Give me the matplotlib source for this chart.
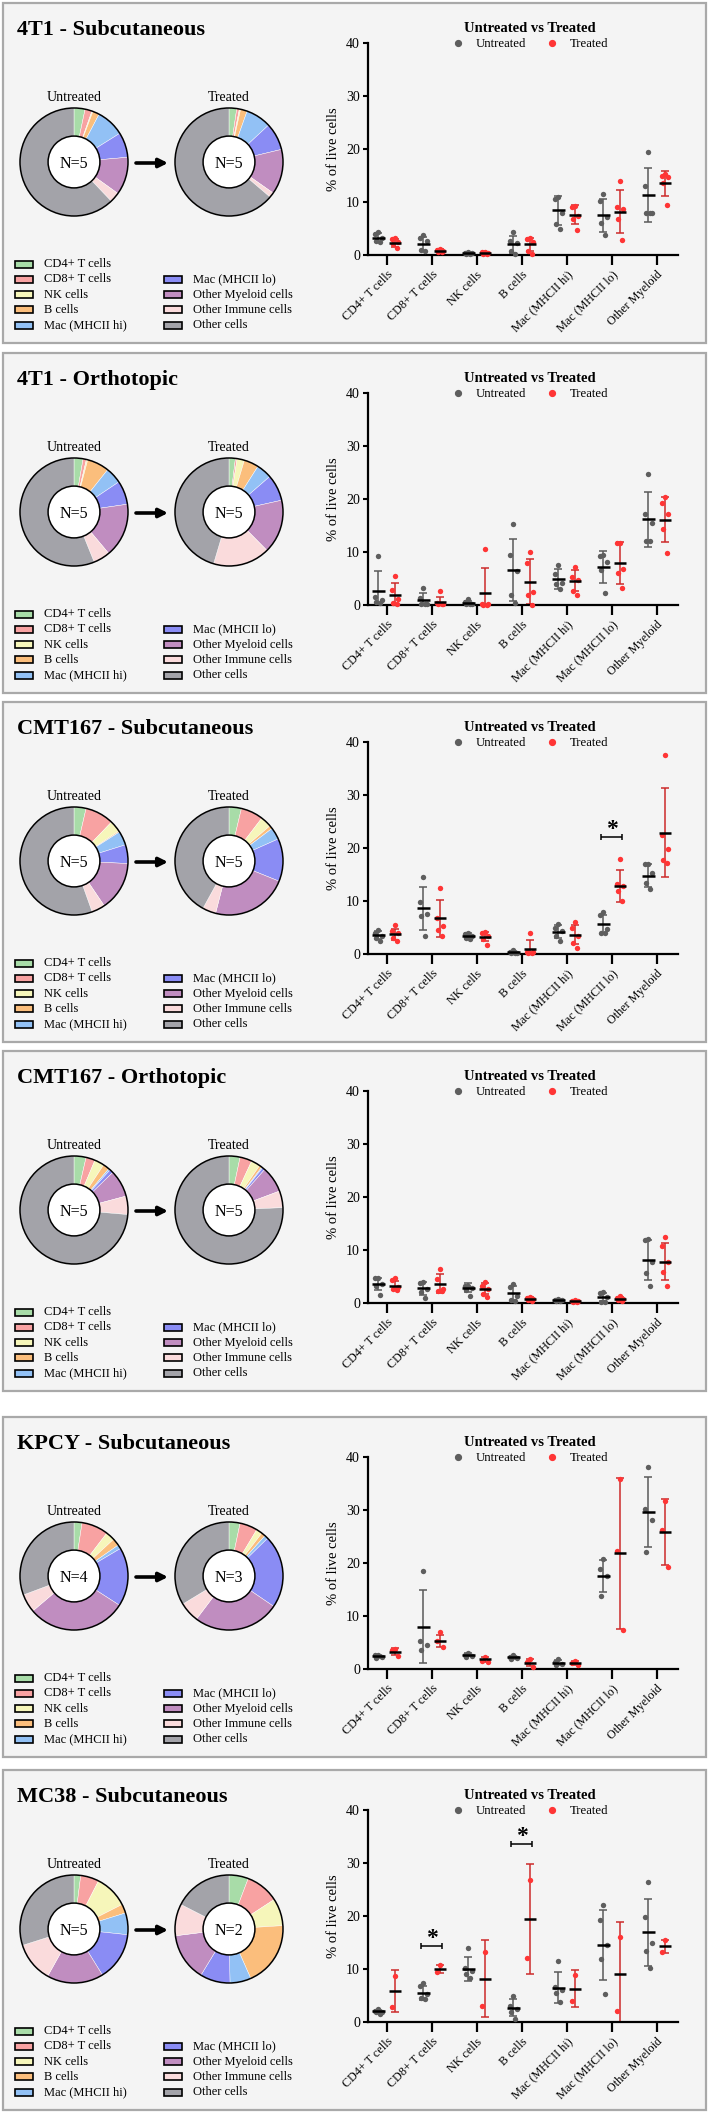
import matplotlib
matplotlib.use("Agg")
import matplotlib.pyplot as plt
from matplotlib.patches import Rectangle, Circle
from matplotlib.lines import Line2D

plt.rcParams['font.family'] = ['Liberation Serif', 'DejaVu Serif']

# ---------------- data ----------------
CATEGORIES = ['CD4+ T cells', 'CD8+ T cells', 'NK cells', 'B cells',
              'Mac (MHCII hi)', 'Mac (MHCII lo)', 'Other Myeloid']
LEGEND_LABELS = ['CD4+ T cells', 'CD8+ T cells', 'NK cells', 'B cells',
                 'Mac (MHCII hi)', 'Mac (MHCII lo)', 'Other Myeloid cells',
                 'Other Immune cells', 'Other cells']
DONUT_COLORS = ['#a8dca8', '#f8a2a2', '#f6f6ba', '#fbbe7c', '#92c1f5',
                '#8a8cf4', '#c08dc0', '#fadbdc', '#a3a3a9']
YTICKS = [0, 10, 20, 30, 40]
GROUPS = ['Untreated', 'Treated']

# Panel 1: 4T1 - Subcutaneous
P1_TITLE = '4T1 - Subcutaneous'
P1_N = [5, 5]
P1_U_PTS = [[4.4, 4.0, 3.3, 2.7, 2.4], [3.8, 3.3, 2.7, 0.9, 0.8], [0.6, 0.4, 0.3, 0.2, 0.1],
            [4.4, 2.7, 2.2, 0.8, 0.2], [11.0, 10.5, 7.9, 5.8, 4.9], [11.5, 10.2, 7.1, 6.0, 3.8],
            [19.5, 13.1, 7.9, 7.9, 7.9]]
P1_U_MEAN = [3.3, 2.1, 0.3, 2.0, 8.4, 7.5, 11.3]
P1_U_SD = [0.8, 1.3, 0.2, 1.6, 2.7, 3.1, 5.1]
P1_T_PTS = [[3.2, 3.0, 2.4, 2.1, 1.4], [1.1, 0.9, 0.8, 0.6, 0.5], [0.6, 0.5, 0.4, 0.2, 0.1],
            [3.3, 3.0, 2.5, 0.8, 0.2], [9.3, 9.0, 7.4, 6.8, 4.8], [14.0, 9.0, 8.7, 6.7, 2.8],
            [15.2, 15.0, 14.7, 13.6, 9.4]]
P1_T_MEAN = [2.3, 0.8, 0.35, 2.0, 7.6, 8.2, 13.5]
P1_T_SD = [0.7, 0.3, 0.2, 1.3, 1.8, 4.1, 2.4]
P1_DONUT_U = [3.3, 2.1, 0.3, 2.0, 8.4, 7.5, 11.3, 3.0, 62.1]
P1_DONUT_T = [2.3, 0.8, 0.35, 2.0, 7.6, 8.2, 13.5, 1.5, 63.75]
P1_SIG = []

# Panel 2: 4T1 - Orthotopic
P2_TITLE = '4T1 - Orthotopic'
P2_N = [5, 5]
P2_U_PTS = [[9.3, 1.5, 0.9, 0.6, 0.4], [3.2, 1.4, 0.2, 0.2, 0.2], [1.2, 0.5, 0.2, 0.2, 0.1],
            [15.2, 9.4, 6.4, 1.9, 0.3], [7.5, 5.8, 4.2, 3.9, 3.0], [9.4, 9.3, 8.2, 6.6, 2.2],
            [24.7, 17.2, 15.4, 12.0, 12.1]]
P2_U_MEAN = [2.7, 1.0, 0.4, 6.6, 4.9, 7.1, 16.2]
P2_U_SD = [3.7, 1.3, 0.4, 5.9, 1.8, 3.0, 5.2]
P2_T_PTS = [[5.4, 2.8, 1.1, 0.3, 0.2], [2.6, 0.3, 0.2, 0.2, 0.1], [10.6, 0.1, 0.1, 0.0, 0.0],
            [10.0, 8.0, 2.4, 1.9, 0.0], [7.2, 5.3, 4.7, 2.7, 1.9], [11.7, 11.7, 6.7, 6.1, 3.2],
            [20.4, 19.2, 17.2, 14.4, 9.9]]
P2_T_MEAN = [1.9, 0.5, 2.2, 4.4, 4.6, 7.9, 16.1]
P2_T_SD = [2.2, 1.1, 4.7, 4.3, 2.0, 3.9, 4.2]
P2_DONUT_U = [2.7, 1.0, 0.4, 6.6, 4.9, 7.1, 16.2, 5.0, 56.1]
P2_DONUT_T = [1.9, 0.5, 2.2, 4.4, 4.6, 7.9, 16.1, 17.0, 45.4]
P2_SIG = []

# Panel 3: CMT167 - Subcutaneous
P3_TITLE = 'CMT167 - Subcutaneous'
P3_N = [5, 5]
P3_U_PTS = [[4.6, 4.0, 3.4, 3.1, 2.5], [14.6, 9.9, 7.5, 7.2, 3.4], [4.0, 3.7, 3.4, 3.1, 2.8],
            [0.7, 0.4, 0.25, 0.2, 0.1], [5.7, 5.0, 4.3, 3.4, 2.5], [7.9, 7.4, 4.7, 4.0, 3.9],
            [17.0, 16.9, 15.3, 13.4, 12.2]]
P3_U_MEAN = [3.6, 8.6, 3.4, 0.35, 4.2, 5.6, 14.8]
P3_U_SD = [0.8, 4.1, 0.5, 0.2, 1.2, 1.8, 2.2]
P3_T_PTS = [[5.4, 4.3, 3.9, 3.1, 2.5], [12.5, 6.8, 5.2, 4.6, 3.4], [4.2, 4.0, 3.4, 2.8, 1.7],
            [4.0, 0.4, 0.3, 0.2, 0.1], [6.0, 5.0, 3.4, 2.1, 1.2], [17.9, 13.2, 12.8, 11.9, 10.0],
            [37.6, 22.4, 19.8, 17.7, 17.2]]
P3_T_MEAN = [3.7, 6.7, 3.3, 1.0, 3.6, 12.8, 22.9]
P3_T_SD = [1.0, 3.5, 0.9, 1.6, 1.8, 3.0, 8.4]
P3_DONUT_U = [3.6, 8.6, 3.4, 0.35, 4.2, 5.6, 14.8, 4.0, 55.45]
P3_DONUT_T = [3.7, 6.7, 3.3, 1.0, 3.6, 12.8, 22.9, 4.0, 42.0]
P3_SIG = [(5, 22.1)]

# Panel 4: CMT167 - Orthotopic
P4_TITLE = 'CMT167 - Orthotopic'
P4_N = [5, 5]
P4_U_PTS = [[4.7, 4.7, 3.6, 3.3, 1.6], [3.9, 3.7, 2.7, 2.1, 0.9], [3.3, 3.2, 2.9, 2.4, 1.3],
            [3.6, 3.0, 1.3, 0.6, 0.4], [0.7, 0.6, 0.5, 0.4, 0.3], [2.1, 1.9, 1.1, 0.2, 0.2],
            [12.1, 11.8, 7.7, 5.6, 3.3]]
P4_U_MEAN = [3.6, 2.75, 2.9, 1.9, 0.5, 1.1, 8.1]
P4_U_SD = [1.2, 1.2, 0.8, 1.3, 0.2, 0.8, 3.8]
P4_T_PTS = [[4.7, 4.3, 3.0, 2.7, 2.4], [6.4, 4.6, 2.7, 2.2, 2.2], [3.9, 3.2, 2.7, 1.75, 1.1],
            [1.1, 0.9, 0.8, 0.5, 0.4], [0.5, 0.4, 0.3, 0.2, 0.1], [1.3, 0.9, 0.7, 0.5, 0.4],
            [12.4, 10.7, 7.8, 5.8, 3.3]]
P4_T_MEAN = [3.3, 3.6, 2.7, 0.8, 0.3, 0.8, 7.8]
P4_T_SD = [0.9, 1.8, 1.0, 0.3, 0.15, 0.35, 3.5]
P4_DONUT_U = [3.6, 2.75, 2.9, 1.9, 0.5, 1.1, 8.1, 5.5, 73.65]
P4_DONUT_T = [3.3, 3.6, 2.7, 0.8, 0.3, 0.8, 7.8, 5.0, 75.7]
P4_SIG = []

# Panel 5: KPCY - Subcutaneous
P5_TITLE = 'KPCY - Subcutaneous'
P5_N = [4, 3]
P5_U_PTS = [[2.7, 2.6, 2.2, 2.1], [18.4, 5.2, 4.6, 3.6], [3.0, 2.7, 2.5, 2.3],
            [2.6, 2.3, 2.0, 1.9], [1.8, 1.3, 0.9, 0.7], [20.7, 18.8, 17.5, 13.8],
            [38.1, 30.1, 28.2, 22.1]]
P5_U_MEAN = [2.4, 8.0, 2.7, 2.2, 1.2, 17.6, 29.7]
P5_U_SD = [0.3, 6.9, 0.3, 0.3, 0.5, 3.0, 6.6]
P5_T_PTS = [[3.8, 3.6, 2.4], [7.0, 5.2, 4.1], [2.3, 1.6, 1.4], [1.9, 1.25, 0.4],
            [1.6, 1.1, 0.8], [35.8, 22.3, 7.3], [31.7, 26.3, 19.3]]
P5_T_MEAN = [3.3, 5.3, 1.8, 1.2, 1.1, 21.8, 25.8]
P5_T_SD = [0.7, 1.2, 0.5, 0.7, 0.4, 14.2, 6.2]
P5_DONUT_U = [2.4, 8.0, 2.7, 2.2, 1.2, 17.6, 29.7, 5.5, 30.7]
P5_DONUT_T = [3.3, 5.3, 1.8, 1.2, 1.1, 21.8, 25.8, 6.0, 33.7]
P5_SIG = []

# Panel 6: MC38 - Subcutaneous
P6_TITLE = 'MC38 - Subcutaneous'
P6_N = [5, 2]
P6_U_PTS = [[2.4, 2.1, 1.9, 1.8, 1.6], [7.3, 6.8, 5.2, 4.6, 4.3], [14.0, 10.2, 9.6, 9.0, 8.3],
            [5.0, 3.0, 2.4, 1.8, 0.6], [11.5, 6.6, 6.1, 5.5, 3.8], [22.0, 19.2, 14.6, 11.9, 5.2],
            [26.5, 19.8, 14.9, 13.4, 10.2]]
P6_U_MEAN = [2.0, 5.5, 10.0, 2.7, 6.5, 14.5, 16.9]
P6_U_SD = [0.3, 1.3, 2.2, 1.6, 2.9, 6.6, 6.4]
P6_T_PTS = [[8.7, 2.9], [10.8, 9.4], [13.2, 3.0], [26.8, 12.1], [8.8, 3.9], [16.1, 2.1],
            [15.4, 13.3]]
P6_T_MEAN = [5.8, 10.0, 8.2, 19.4, 6.3, 9.0, 14.3]
P6_T_SD = [4.0, 0.7, 7.2, 10.4, 3.5, 9.9, 1.2]
P6_DONUT_U = [2.0, 5.5, 10.0, 2.7, 6.5, 14.5, 16.9, 12.0, 29.9]
P6_DONUT_T = [5.8, 10.0, 8.2, 19.4, 6.3, 9.0, 14.3, 9.5, 17.5]
P6_SIG = [(1, 14.3), (3, 33.5)]

PANELS = [
    (P1_TITLE, P1_N, P1_U_PTS, P1_U_MEAN, P1_U_SD, P1_T_PTS, P1_T_MEAN, P1_T_SD, P1_DONUT_U, P1_DONUT_T, P1_SIG),
    (P2_TITLE, P2_N, P2_U_PTS, P2_U_MEAN, P2_U_SD, P2_T_PTS, P2_T_MEAN, P2_T_SD, P2_DONUT_U, P2_DONUT_T, P2_SIG),
    (P3_TITLE, P3_N, P3_U_PTS, P3_U_MEAN, P3_U_SD, P3_T_PTS, P3_T_MEAN, P3_T_SD, P3_DONUT_U, P3_DONUT_T, P3_SIG),
    (P4_TITLE, P4_N, P4_U_PTS, P4_U_MEAN, P4_U_SD, P4_T_PTS, P4_T_MEAN, P4_T_SD, P4_DONUT_U, P4_DONUT_T, P4_SIG),
    (P5_TITLE, P5_N, P5_U_PTS, P5_U_MEAN, P5_U_SD, P5_T_PTS, P5_T_MEAN, P5_T_SD, P5_DONUT_U, P5_DONUT_T, P5_SIG),
    (P6_TITLE, P6_N, P6_U_PTS, P6_U_MEAN, P6_U_SD, P6_T_PTS, P6_T_MEAN, P6_T_SD, P6_DONUT_U, P6_DONUT_T, P6_SIG),
]

# ---------------- layout / style ----------------
W, H = 709, 2114
PANEL_TOPS = [3, 353, 702, 1051, 1417, 1770]
PANEL_H = 340
U_DOT, T_DOT = '#5e5e5e', '#ff3535'
U_BAR, T_BAR = '#5a5a5a', '#cc2a2a'
GROUP_OFF = 0.185
JITTER = [0.0, -0.075, 0.075, -0.04, 0.04]

fig = plt.figure(figsize=(W / 100, H / 100), dpi=100)
fig.patch.set_facecolor('white')

bg = fig.add_axes([0, 0, 1, 1])
bg.set_xlim(0, W)
bg.set_ylim(H, 0)
bg.axis('off')


def fx(px):
    return px / W


def fy(py):
    return 1 - py / H


for p, (title, ns, u_pts, u_mean, u_sd, t_pts, t_mean, t_sd, d_u, d_t, sig) in enumerate(PANELS):
    T = PANEL_TOPS[p]
    bg.add_patch(Rectangle((3, T), 703, PANEL_H, facecolor='#f4f4f4',
                           edgecolor='#a9a9a9', linewidth=1.6))
    bg.text(17, T + 32, title, fontsize=16, fontweight='bold', ha='left', va='baseline')

    # donuts
    cy = T + 159
    for cx, vals, lab, n in [(74, d_u, 'Untreated', ns[0]), (229, d_t, 'Treated', ns[1])]:
        dax = fig.add_axes([fx(cx - 67.5), fy(cy + 67.5), 135 / W, 135 / H])
        dax.pie(vals, colors=DONUT_COLORS, startangle=90, counterclock=False,
                radius=1.0, wedgeprops=dict(width=0.52, edgecolor='white', linewidth=0.3))
        dax.add_patch(Circle((0, 0), 1.0, fill=False, edgecolor='black', linewidth=1.1))
        dax.add_patch(Circle((0, 0), 0.48, facecolor='white', edgecolor='black', linewidth=1.1))
        dax.text(0, 0, 'N=%d' % n, ha='center', va='center_baseline', fontsize=11.5)
        dax.set_xlim(-1.25, 1.25)
        dax.set_ylim(-1.25, 1.25)
        dax.axis('off')
        bg.text(cx, T + 98, lab, ha='center', va='baseline', fontsize=10)
    bg.annotate('', xy=(168, cy + 1), xytext=(136, cy + 1),
                arrowprops=dict(arrowstyle='-|>', color='black', lw=2.6,
                                mutation_scale=13, shrinkA=0, shrinkB=0))

    # cell-type legend
    rows = [T + 261 + 15.3 * r for r in range(5)]
    slots = [(15, rows[0]), (15, rows[1]), (15, rows[2]), (15, rows[3]), (15, rows[4]),
             (164, rows[1]), (164, rows[2]), (164, rows[3]), (164, rows[4])]
    for (lx, ly), lab, col in zip(slots, LEGEND_LABELS, DONUT_COLORS):
        bg.add_patch(Rectangle((lx, ly - 3.5), 18, 7, facecolor=col, edgecolor='black', linewidth=1.2))
        bg.text(lx + 29, ly, lab, ha='left', va='center', fontsize=9)

    # dot plot
    ax = fig.add_axes([fx(367.7), fy(T + 252), 310 / W, 212 / H])
    ax.patch.set_alpha(0)
    for i in range(len(CATEGORIES)):
        for pts, mean, sd, off, dcol, bcol in [(u_pts[i], u_mean[i], u_sd[i], -GROUP_OFF, U_DOT, U_BAR),
                                               (t_pts[i], t_mean[i], t_sd[i], GROUP_OFF, T_DOT, T_BAR)]:
            xc = i + off
            ax.errorbar([xc], [mean], yerr=[sd], fmt='none', ecolor=bcol, elinewidth=1.1,
                        capsize=2.6, capthick=1.1, zorder=2)
            xs = [xc + JITTER[k % len(JITTER)] for k in range(len(pts))]
            ax.scatter(xs, pts, s=15, color=dcol, zorder=3, clip_on=False, linewidths=0)
            ax.hlines(mean, xc - 0.14, xc + 0.14, color='black', linewidth=1.8, zorder=4)
    for (ci, yb) in sig:
        ax.errorbar([ci], [yb], xerr=[0.23], fmt='none', ecolor='black', elinewidth=1.1,
                    capsize=2.5, capthick=1.1, zorder=4, clip_on=False)
        ax.text(ci, yb + 0.4, '*', ha='center', va='baseline', fontsize=17, fontweight='bold')

    ax.set_xlim(-0.42, 6.47)
    ax.set_ylim(0, 40)
    for s in ['top', 'right']:
        ax.spines[s].set_visible(False)
    for s in ['left', 'bottom']:
        ax.spines[s].set_linewidth(1.6)
    ax.set_yticks(YTICKS)
    ax.set_xticks(range(len(CATEGORIES)))
    ax.set_xticklabels(CATEGORIES, rotation=45, ha='right', rotation_mode='anchor', fontsize=8.7)
    ax.tick_params(axis='y', length=3.5, width=1.5, labelsize=10, pad=2)
    ax.tick_params(axis='x', length=7, width=1.6, pad=3)
    ax.set_ylabel('% of live cells', fontsize=10.5)
    ax.yaxis.set_label_coords(-0.09, 0.5)

    bg.text(530, T + 29, 'Untreated vs Treated', ha='center', va='baseline',
            fontsize=10.5, fontweight='bold')
    handles = [Line2D([], [], marker='o', linestyle='', color=U_DOT, markersize=4.2),
               Line2D([], [], marker='o', linestyle='', color=T_DOT, markersize=4.2)]
    fig.legend(handles, GROUPS, loc='center', bbox_to_anchor=(fx(530), fy(T + 41)),
               ncol=2, frameon=False, fontsize=9.2, handlelength=1.0,
               handletextpad=0.9, columnspacing=1.5, borderpad=0, borderaxespad=0)

fig.savefig('out.png', dpi=100, facecolor='white')
